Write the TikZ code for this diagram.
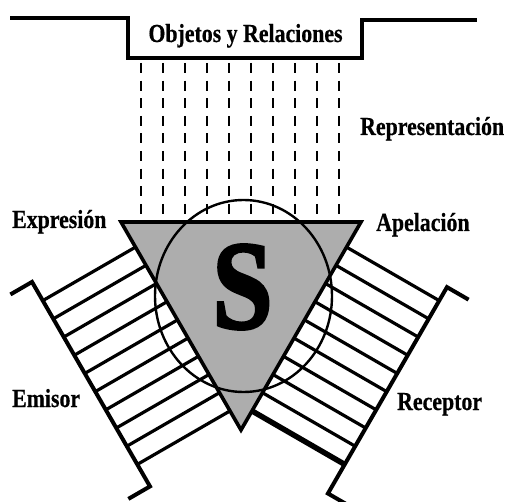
\documentclass[tikz,border=0pt]{standalone}
\usepackage{fontspec}
\setmainfont{Liberation Serif}
\newfontfamily\heavyserif{Liberation Serif Bold}[FakeBold=2.5]
\newfontfamily\labelserif{Liberation Serif Bold}[FakeBold=0.6]
\usetikzlibrary{calc}

\begin{document}
\begin{tikzpicture}[
  x=1pt, y=-1pt,
  lbl/.style={font=\fontsize{26}{26}\labelserif, xscale=0.84, inner sep=0pt},
  frame/.style={line width=4pt, line join=miter},
  hatch/.style={line width=3.2pt},
  ray/.style={line width=2.7pt, dash pattern=on 10pt off 7.6pt},
  sign/.style={draw, fill=black!32, line width=3.6pt, line join=miter},
  field/.style={line width=2.4pt}
]
\useasboundingbox (0,0) rectangle (506,502);
\clip (0,0) rectangle (506,502);

\coordinate (A) at (121,222);
\coordinate (B) at (361,222);
\coordinate (C) at (241,430);
\coordinate (E1) at ($(A)!0.031!(C)+(-92.7,53.5)$);
\coordinate (E2) at ($(A)!1.014!(C)+(-92.7,53.5)$);
\coordinate (R1) at ($(B)!0.056!(C)+(92.7,53.5)$);
\coordinate (R2) at ($(B)!1.048!(C)+(92.7,53.5)$);

\draw[frame] (10,18) -- (128,18) -- (128,58) -- (362,58) -- (362,20) -- (477,20);
\node[lbl, anchor=base] (obj) at (245.5,42) {Objetos y Relaciones};

\foreach \i in {0,...,9}
  \draw[ray] (141+22*\i,63) -- (141+22*\i,222);

\foreach \k in {0,...,9} {
  \draw[hatch] ($(A)!{(29+21*\k)/240}!(C)$) -- ++(-92.7,53.5);
  \ifnum\k<9
    \draw[hatch] ($(B)!{(29+21*\k)/240}!(C)$) -- ++(92.7,53.5);
  \else
    \draw[hatch, line width=5.5pt] ($(B)!{(29+21*\k)/240}!(C)$) -- ++(92.7,53.5);
  \fi
}

\draw[frame] ($(E1)+(-21.6,12.5)$) -- (E1) -- (E2) -- ($(E2)+(-21.6,12.5)$);
\draw[frame] ($(R1)+(21.6,12.5)$) -- (R1) -- (R2) -- ($(R2)+(21.6,12.5)$);

\draw[sign] (A) -- (B) -- (C) -- cycle;
\draw[field] (243.5,296) ellipse [x radius=88.5, y radius=96];
\node[font=\fontsize{126}{126}\heavyserif, xscale=0.86, inner sep=0pt] (sym) at (242.5,287) {S};

\node[lbl, anchor=base west] (repr) at (360,135) {Representación};
\node[lbl, anchor=base west] (expr) at (12,228) {Expresión};
\node[lbl, anchor=base west] (apel) at (376,231) {Apelación};
\node[lbl, anchor=base west] (emis) at (12,407) {Emisor};
\node[lbl, anchor=base west] (recep) at (397,410) {Receptor};
\end{tikzpicture}
\end{document}
